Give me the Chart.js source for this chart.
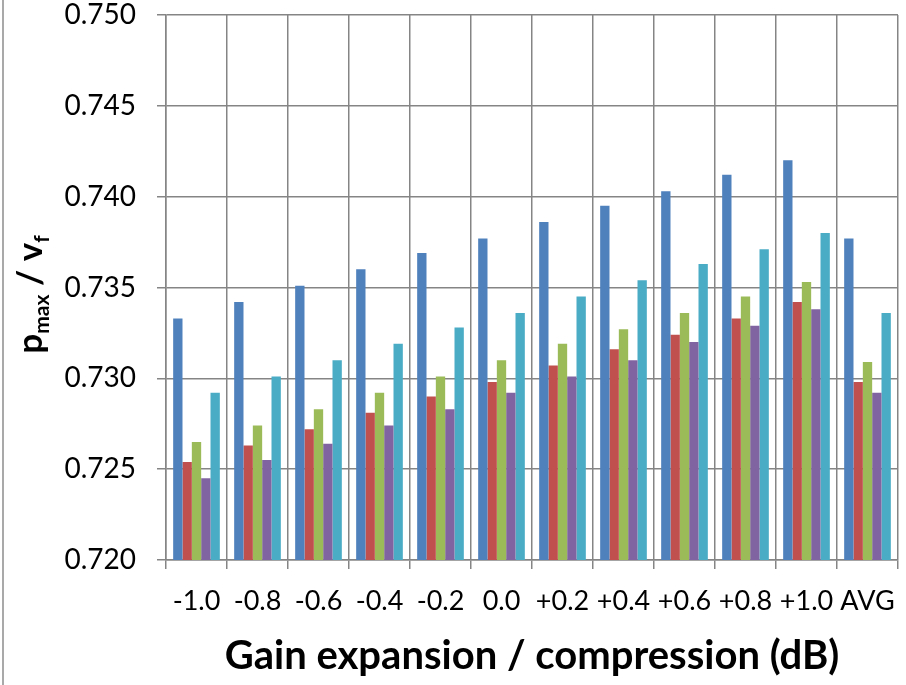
<!DOCTYPE html>
<html>
<head>
<meta charset="utf-8">
<script src="https://cdn.jsdelivr.net/npm/chart.js@4/dist/chart.umd.min.js"></script>
<style>
  html, body { margin: 0; padding: 0; background: #ffffff; }
  #wrap { width: 906px; height: 685px; position: relative; }
</style>
</head>
<body>
<div id="wrap"><canvas id="chart" width="906" height="685"></canvas></div>
<script>
// Gain settings (dB) plus the average column
const categories = ['-1.0', '-0.8', '-0.6', '-0.4', '-0.2', '0.0', '+0.2', '+0.4', '+0.6', '+0.8', '+1.0', 'AVG'];

// p_max / v_f for each of the five series
const seriesBlue   = [0.7333, 0.7342, 0.7351, 0.7360, 0.7369, 0.7377, 0.7386, 0.7395, 0.7403, 0.7412, 0.7420, 0.7377];
const seriesRed    = [0.7254, 0.7263, 0.7272, 0.7281, 0.7290, 0.7298, 0.7307, 0.7316, 0.7324, 0.7333, 0.7342, 0.7298];
const seriesGreen  = [0.7265, 0.7274, 0.7283, 0.7292, 0.7301, 0.7310, 0.7319, 0.7327, 0.7336, 0.7345, 0.7353, 0.7309];
const seriesPurple = [0.7245, 0.7255, 0.7264, 0.7274, 0.7283, 0.7292, 0.7301, 0.7310, 0.7320, 0.7329, 0.7338, 0.7292];
const seriesCyan   = [0.7292, 0.7301, 0.7310, 0.7319, 0.7328, 0.7336, 0.7345, 0.7354, 0.7363, 0.7371, 0.7380, 0.7336];

// y axis range and tick spacing
const yMin = 0.720;
const yMax = 0.750;
const yStep = 0.005;

const GRID = '#858585';
const FONT = 'Lato, "Open Sans", sans-serif';

// Rotated y-axis title with subscripts: p_max / v_f
const yTitlePlugin = {
  id: 'yTitle',
  afterDraw(chart) {
    const ctx = chart.ctx;
    const parts = [
      { t: 'p', size: 35, dy: 0 },
      { t: 'max', size: 21, dy: 7 },
      { t: ' / v', size: 35, dy: 0 },
      { t: 'f', size: 21, dy: 7 }
    ];
    ctx.save();
    let total = 0;
    parts.forEach(p => {
      ctx.font = 'bold ' + p.size + 'px ' + FONT;
      p.w = ctx.measureText(p.t).width;
      total += p.w;
    });
    const cy = (chart.chartArea.top + chart.chartArea.bottom) / 2 + 7;
    ctx.translate(42, cy);
    ctx.rotate(-Math.PI / 2);
    ctx.fillStyle = '#000000';
    ctx.textBaseline = 'alphabetic';
    ctx.textAlign = 'left';
    let x = -total / 2;
    parts.forEach(p => {
      ctx.font = 'bold ' + p.size + 'px ' + FONT;
      ctx.fillText(p.t, x, p.dy);
      x += p.w;
    });
    ctx.restore();
  }
};

// Thin frame line along the left edge of the figure
const framePlugin = {
  id: 'frame',
  beforeDraw(chart) {
    const ctx = chart.ctx;
    ctx.save();
    ctx.fillStyle = '#ffffff';
    ctx.fillRect(0, 0, chart.width, chart.height);
    ctx.strokeStyle = '#8c8c8c';
    ctx.lineWidth = 1.5;
    ctx.beginPath();
    ctx.moveTo(3, 0);
    ctx.lineTo(3, chart.height);
    ctx.stroke();
    ctx.restore();
  }
};

const mkSet = (data, color) => ({
  data: data,
  backgroundColor: color,
  borderWidth: 0,
  categoryPercentage: 0.765,
  barPercentage: 1.0
});

new Chart(document.getElementById('chart'), {
  type: 'bar',
  data: {
    labels: categories,
    datasets: [
      mkSet(seriesBlue, '#4F81BD'),
      mkSet(seriesRed, '#C0504D'),
      mkSet(seriesGreen, '#9BBB59'),
      mkSet(seriesPurple, '#8064A2'),
      mkSet(seriesCyan, '#4BACC6')
    ]
  },
  options: {
    responsive: false,
    animation: false,
    layout: { padding: { top: 15, right: 8, left: 0, bottom: 0 } },
    plugins: {
      legend: { display: false },
      tooltip: { enabled: false }
    },
    scales: {
      x: {
        offset: true,
        grid: {
          offset: true,
          color: GRID,
          lineWidth: 1.5,
          tickLength: 9,
          drawTicks: true
        },
        border: { display: true, color: GRID, width: 1.5 },
        ticks: {
          color: '#000000',
          font: { family: FONT, size: 27 },
          autoSkip: false,
          maxRotation: 0,
          minRotation: 0,
          padding: 16
        },
        title: {
          display: true,
          text: 'Gain expansion / compression (dB)',
          color: '#000000',
          font: { family: FONT, size: 40, weight: 'bold' },
          padding: { top: 0, bottom: 5 }
        },
        afterFit(scale) {
          scale.height = 125;
          scale.paddingLeft = 0;
          scale.paddingRight = 0;
        }
      },
      y: {
        min: yMin,
        max: yMax,
        grid: {
          color: GRID,
          lineWidth: 1.5,
          tickLength: 9,
          drawTicks: true
        },
        border: { display: true, color: GRID, width: 1.5 },
        ticks: {
          stepSize: yStep,
          color: '#000000',
          font: { family: FONT, size: 28, lineHeight: 1 },
          padding: 21,
          callback: v => Number(v).toFixed(3)
        },
        afterFit(scale) {
          scale.width = 166;
          scale.paddingTop = 0;
          scale.paddingBottom = 0;
        }
      }
    }
  },
  plugins: [framePlugin, yTitlePlugin]
});
</script>
</body>
</html>
